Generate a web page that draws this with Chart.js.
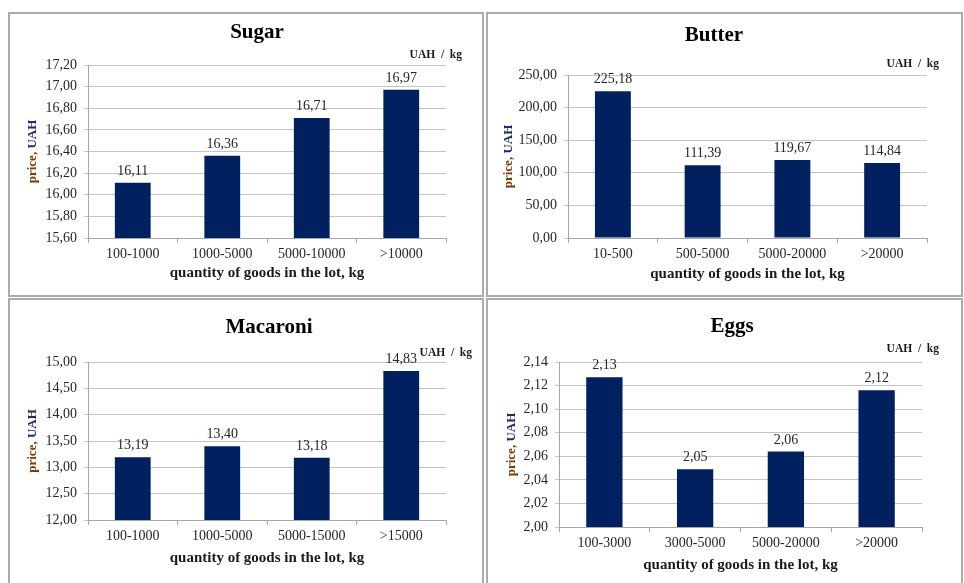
<!DOCTYPE html>
<html>
<head>
<meta charset="utf-8">
<script src="https://cdn.jsdelivr.net/npm/chart.js@4.4.1/dist/chart.umd.min.js"></script>
<style>
  body { margin: 0; background: #fff; width: 964px; height: 583px; overflow: hidden; position: relative; }
  .panel { position: absolute; box-sizing: border-box; border: 2px solid #ababab; }
  .panel canvas { position: absolute; left: -2px; top: -2px; }
</style>
</head>
<body>
<div class="panel" style="left:8px;top:12px;width:476px;height:285px"><canvas id="sugar" width="476" height="285"></canvas></div>
<div class="panel" style="left:486px;top:12px;width:477px;height:285px"><canvas id="butter" width="477" height="285"></canvas></div>
<div class="panel" style="left:8px;top:298px;width:476px;height:292px"><canvas id="macaroni" width="476" height="292"></canvas></div>
<div class="panel" style="left:486px;top:298px;width:477px;height:292px"><canvas id="eggs" width="477" height="292"></canvas></div>

<script>
// data
const sugarLots = ['100-1000', '1000-5000', '5000-10000', '>10000'];
const sugarPrices = [16.11, 16.36, 16.71, 16.97];
const sugarAxis = [15.6, 17.2, 0.2]; // min, max, step

const butterLots = ['10-500', '500-5000', '5000-20000', '>20000'];
const butterPrices = [225.18, 111.39, 119.67, 114.84];
const butterAxis = [0, 250, 50];

const macaroniLots = ['100-1000', '1000-5000', '5000-15000', '>15000'];
const macaroniPrices = [13.19, 13.40, 13.18, 14.83];
const macaroniAxis = [12, 15, 0.5];

const eggsLots = ['100-3000', '3000-5000', '5000-20000', '>20000'];
const eggsPrices = [2.127, 2.049, 2.064, 2.116];
const eggsAxis = [2.0, 2.14, 0.02];

const xTitle = 'quantity of goods in the lot, kg';
const serif = "'Liberation Serif', 'DejaVu Serif', serif";

Chart.defaults.font.family = serif;

const fmt = v => Number(v).toFixed(2).replace('.', ',');

// titles, unit note, two-colour y title and value labels
const panelText = {
    id: 'panelText',
    afterDatasetsDraw(chart) {
        const ctx = chart.ctx;
        const meta = chart.getDatasetMeta(0);
        const values = chart.data.datasets[0].data;
        ctx.save();
        ctx.font = '14px ' + serif;
        ctx.fillStyle = '#262626';
        ctx.textAlign = 'center';
        ctx.textBaseline = 'alphabetic';
        meta.data.forEach((bar, i) => {
            ctx.fillText(fmt(values[i]), bar.x, bar.y - 8);
        });
        ctx.restore();
    },
    afterDraw(chart, args, opts) {
        const ctx = chart.ctx;
        const area = chart.chartArea;
        ctx.save();
        ctx.fillStyle = '#000';
        ctx.textAlign = 'center';
        ctx.textBaseline = 'middle';
        ctx.font = 'bold 21px ' + serif;
        ctx.fillText(opts.title, opts.titleX, opts.titleY);

        ctx.font = 'bold 11.5px ' + serif;
        ctx.fillStyle = '#1a1a1a';
        ctx.textAlign = 'right';
        ctx.fillText('UAH  /  kg', opts.unitX, opts.unitY);

        // y axis title
        ctx.font = 'bold 13px ' + serif;
        const a = 'price, ', b = 'UAH';
        const w = ctx.measureText(a + b).width;
        ctx.translate(opts.yTitleX, (area.top + area.bottom) / 2);
        ctx.rotate(-Math.PI / 2);
        ctx.textAlign = 'left';
        ctx.fillStyle = '#7a3b08';
        ctx.fillText(a, -w / 2, 0);
        ctx.fillStyle = '#1f2a66';
        ctx.fillText(b, -w / 2 + ctx.measureText(a).width, 0);
        ctx.restore();
    }
};

function makeChart(id, lots, prices, axis, box, text) {
    const canvas = document.getElementById(id);
    const yAxisWidth = 60;
    return new Chart(canvas, {
        type: 'bar',
        data: {
            labels: lots,
            datasets: [{
                data: prices,
                backgroundColor: '#002060',
                categoryPercentage: 0.8,
                barPercentage: 0.5
            }]
        },
        options: {
            responsive: false,
            animation: false,
            layout: {
                padding: {
                    left: box.left - yAxisWidth,
                    top: box.top,
                    right: canvas.width - box.right,
                    bottom: canvas.height - box.bottom - box.xAxisH
                }
            },
            plugins: {
                legend: { display: false },
                tooltip: { enabled: false },
                panelText: text
            },
            scales: {
                x: {
                    grid: { drawOnChartArea: false, tickLength: 5, color: '#a6a6a6' },
                    border: { color: '#a6a6a6' },
                    ticks: { padding: 3, maxRotation: 0, color: '#262626', font: { size: 14 } },
                    title: {
                        display: true,
                        text: xTitle,
                        color: '#1a1a1a',
                        font: { size: 15, weight: 'bold' },
                        padding: { top: 0, bottom: 0 }
                    },
                    afterFit: s => { s.height = box.xAxisH; }
                },
                y: {
                    min: axis[0],
                    max: axis[1],
                    ticks: {
                        stepSize: axis[2],
                        padding: 7,
                        color: '#262626',
                        font: { size: 14 },
                        callback: v => fmt(v)
                    },
                    grid: { color: '#c4c4c4', tickLength: 4 },
                    border: { color: '#a6a6a6' },
                    afterFit: s => { s.width = yAxisWidth; }
                }
            }
        },
        plugins: [panelText]
    });
}

makeChart('sugar', sugarLots, sugarPrices, sugarAxis,
    { left: 80, top: 53, right: 438, bottom: 226, xAxisH: 44 },
    { title: 'Sugar', titleX: 249, titleY: 21, unitX: 454, unitY: 43, yTitleX: 25 });

makeChart('butter', butterLots, butterPrices, butterAxis,
    { left: 82, top: 63, right: 441, bottom: 226, xAxisH: 45 },
    { title: 'Butter', titleX: 228, titleY: 24, unitX: 453, unitY: 52, yTitleX: 23 });

makeChart('macaroni', macaroniLots, macaroniPrices, macaroniAxis,
    { left: 80, top: 64, right: 438, bottom: 222, xAxisH: 47 },
    { title: 'Macaroni', titleX: 261, titleY: 30, unitX: 464, unitY: 55, yTitleX: 25 });

makeChart('eggs', eggsLots, eggsPrices, eggsAxis,
    { left: 73, top: 64, right: 436, bottom: 229, xAxisH: 47 },
    { title: 'Eggs', titleX: 246, titleY: 29, unitX: 453, unitY: 51, yTitleX: 26 });
</script>
</body>
</html>
